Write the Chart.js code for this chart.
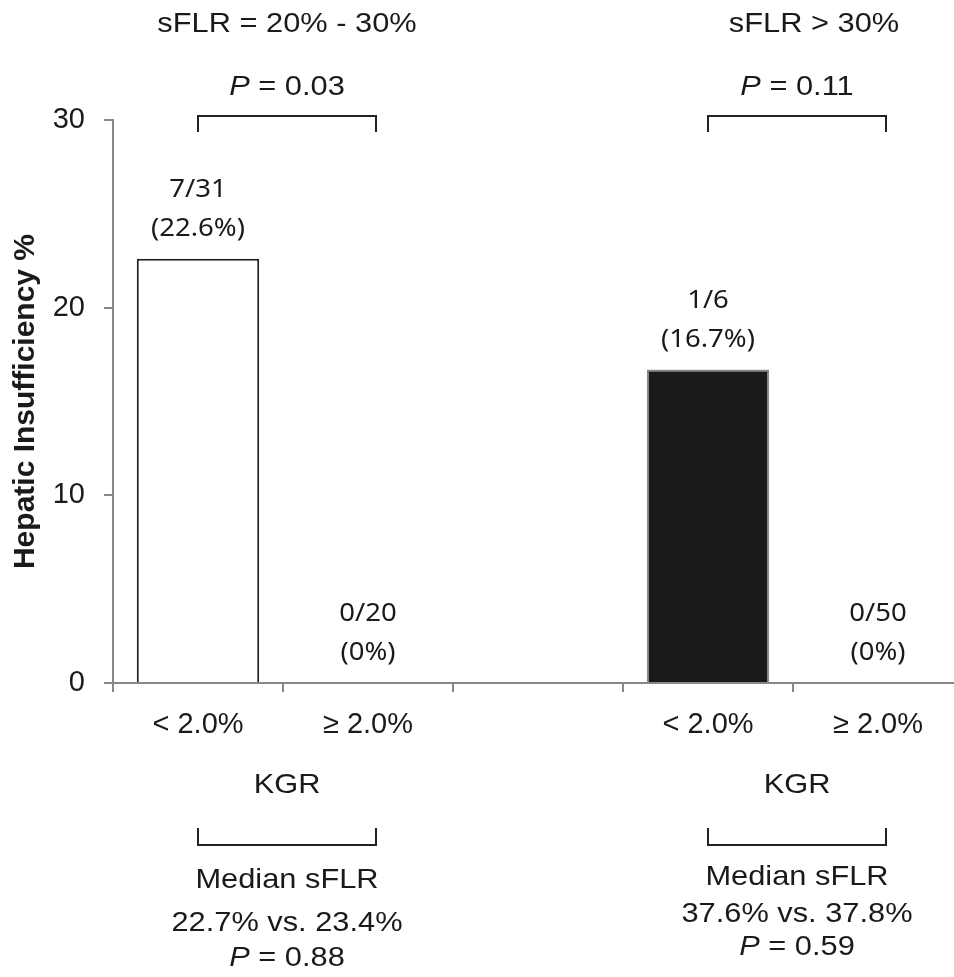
<!DOCTYPE html>
<html>
<head>
<meta charset="utf-8">
<script src="https://cdn.jsdelivr.net/npm/chart.js@4.4.1/dist/chart.umd.min.js"></script>
<style>
  html, body { margin: 0; padding: 0; background: #fff; overflow: hidden; }
  canvas { display: block; }
</style>
</head>
<body>
<canvas id="chart" width="963" height="977"></canvas>
<script>
// categories: KGR groups, slot 2 is the gap between the two sFLR groups
const categories = ["< 2.0%", "\u2265 2.0%", "", "< 2.0%", "\u2265 2.0%"];
const insufficiency = [22.6, 0, null, 16.7, 0];
const countLabels = ["7/31", "0/20", "", "1/6", "0/50"];
const pctLabels = ["(22.6%)", "(0%)", "", "(16.7%)", "(0%)"];
const barColors = ["#ffffff", "#ffffff", "#ffffff", "#1a1a1a", "#1a1a1a"];
const barBorders = ["#222222", "#222222", "#222222", "#8a8a8a", "#8a8a8a"];
const yTicks = [0, 10, 20, 30];

// group annotations
const groupStart = [0, 3];
const groupTitles = ["sFLR = 20% - 30%", "sFLR > 30%"];
const groupP = ["0.03", "0.11"];
const medianVs = ["22.7% vs. 23.4%", "37.6% vs. 37.8%"];
const medianP = ["0.88", "0.59"];

const FONT = "'Liberation Sans', Arial, sans-serif";
const LABEL_FONT = "'Noto Sans', 'Open Sans', sans-serif";
const STRETCH = 1.1; // the figure's lettering is a little wide

function wideText(ctx, text, cx, cy, align) {
  ctx.save();
  ctx.translate(cx, cy);
  ctx.scale(STRETCH, 1);
  ctx.textAlign = align || "center";
  ctx.fillText(text, 0, 0);
  ctx.restore();
}

function drawP(ctx, value, cx, cy, size) {
  ctx.font = "italic " + size + "px " + FONT;
  const w1 = ctx.measureText("P").width * STRETCH;
  ctx.font = size + "px " + FONT;
  const rest = " = " + value;
  const w2 = ctx.measureText(rest).width * STRETCH;
  const x0 = cx - (w1 + w2) / 2;
  ctx.font = "italic " + size + "px " + FONT;
  wideText(ctx, "P", x0, cy, "left");
  ctx.font = size + "px " + FONT;
  wideText(ctx, rest, x0 + w1, cy, "left");
}

const annotations = {
  id: "annotations",
  afterDraw(chart) {
    const ctx = chart.ctx;
    const x = chart.scales.x;
    const meta = chart.getDatasetMeta(0);
    ctx.save();
    ctx.fillStyle = "#1a1a1a";
    ctx.strokeStyle = "#222";
    ctx.lineWidth = 2;
    ctx.textBaseline = "middle";

    // labels above bars
    ctx.font = "25px " + LABEL_FONT;
    meta.data.forEach((bar, i) => {
      if (insufficiency[i] === null) return;
      wideText(ctx, countLabels[i], bar.x, bar.y - 69);
      wideText(ctx, pctLabels[i], bar.x, bar.y - 30);
    });

    groupStart.forEach((g, k) => {
      const xl = x.getPixelForValue(g);
      const xr = x.getPixelForValue(g + 1) + 8;
      const mid = (xl + xr) / 2;

      // title and top bracket
      ctx.font = "28px " + FONT;
      wideText(ctx, groupTitles[k], k === 0 ? mid : mid + 17, 24);
      drawP(ctx, groupP[k], mid, 87, 28);
      ctx.beginPath();
      ctx.moveTo(xl, 132);
      ctx.lineTo(xl, 116);
      ctx.lineTo(xr, 116);
      ctx.lineTo(xr, 132);
      ctx.stroke();

      // KGR and bottom bracket
      ctx.font = "28px " + FONT;
      wideText(ctx, "KGR", mid, 785);
      ctx.beginPath();
      ctx.moveTo(xl, 828);
      ctx.lineTo(xl, 845);
      ctx.lineTo(xr, 845);
      ctx.lineTo(xr, 828);
      ctx.stroke();

      const gap = k === 0 ? 0 : -3;
      ctx.font = "28px " + FONT;
      wideText(ctx, "Median sFLR", mid, 880 + gap);
      wideText(ctx, medianVs[k], mid, 923 + gap * 3);
      drawP(ctx, medianP[k], mid, 958 + gap * 3.5, 28);
    });
    ctx.restore();
  }
};

new Chart(document.getElementById("chart"), {
  type: "bar",
  data: {
    labels: categories,
    datasets: [{
      data: insufficiency,
      backgroundColor: barColors,
      borderColor: barBorders,
      borderWidth: 2,
      categoryPercentage: 1,
      barPercentage: 0.72
    }]
  },
  options: {
    responsive: false,
    animation: false,
    layout: { padding: { top: 120, bottom: 234, left: 0, right: 0 } },
    plugins: {
      legend: { display: false },
      tooltip: { enabled: false }
    },
    scales: {
      x: {
        afterFit: s => { s.height = 60; },
        grid: { offset: true, drawOnChartArea: false, tickLength: 9, color: "#888", lineWidth: 2 },
        border: { color: "#888", width: 2 },
        ticks: { color: "#1a1a1a", font: { family: FONT, size: 29 }, padding: 16, maxRotation: 0, autoSkip: false }
      },
      y: {
        min: 0,
        max: 30,
        afterFit: s => { s.width = 113; },
        afterBuildTicks: s => { s.ticks = yTicks.map(v => ({ value: v })); },
        grid: { drawOnChartArea: false, tickLength: 9, color: "#888", lineWidth: 2 },
        border: { color: "#888", width: 2 },
        ticks: { color: "#1a1a1a", font: { family: FONT, size: 29 }, padding: 19 },
        title: {
          display: true,
          text: "Hepatic Insufficiency %",
          color: "#1a1a1a",
          font: { family: FONT, size: 30, weight: "bold" },
          padding: { top: 8, bottom: 0 }
        }
      }
    }
  },
  plugins: [annotations]
});
</script>
</body>
</html>
